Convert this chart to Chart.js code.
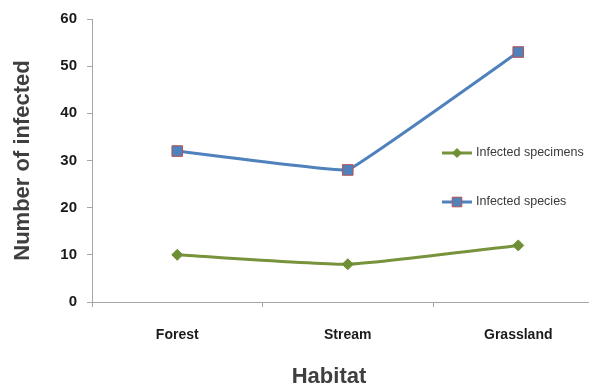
<!DOCTYPE html>
<html>
<head>
<meta charset="utf-8">
<script src="https://cdn.jsdelivr.net/npm/chart.js@4"></script>
<style>
  html, body { margin: 0; padding: 0; background: #fff; overflow: hidden; width: 589px; height: 389px; }
  #wrap { width: 589px; height: 389px; overflow: hidden; position: relative; }
  #c { position: absolute; left: 0; top: 0; }
</style>
</head>
<body>
<div id="wrap"><canvas id="c" width="612" height="389"></canvas></div>
<script>
const habitats = ['Forest', 'Stream', 'Grassland'];
const infectedSpecimens = [10, 8, 12];
const infectedSpecies = [32, 28, 53];
const yTicks = [0, 10, 20, 30, 40, 50, 60];
const xTitle = 'Habitat';

const FONT = '"Liberation Sans", Arial, sans-serif';

// Legend drawn inside the plot area, right of the Grassland point,
// plus the x-axis title centred under the whole figure
const overlay = {
  id: 'overlay',
  afterDraw(chart) {
    const ctx = chart.ctx;
    const rows = [153, 202];
    const markerRadius = [4.5, 6.8];
    ctx.save();
    chart.data.datasets.forEach((ds, i) => {
      const y = rows[i];
      ctx.strokeStyle = ds.borderColor;
      ctx.lineWidth = 3;
      ctx.beginPath();
      ctx.moveTo(442, y);
      ctx.lineTo(472, y);
      ctx.stroke();
      ctx.fillStyle = ds.pointBackgroundColor;
      ctx.strokeStyle = ds.pointBorderColor;
      ctx.lineWidth = ds.pointBorderWidth;
      Chart.helpers.drawPoint(ctx, {
        pointStyle: ds.pointStyle,
        radius: markerRadius[i],
        borderWidth: ds.pointBorderWidth
      }, 457, y);
      ctx.fillStyle = '#3a3a3a';
      ctx.font = '12.5px ' + FONT;
      ctx.textBaseline = 'middle';
      ctx.textAlign = 'left';
      ctx.fillText(ds.label, 476, y);
    });
    ctx.fillStyle = '#3f3f3f';
    ctx.font = 'bold 22px ' + FONT;
    ctx.textAlign = 'center';
    ctx.textBaseline = 'middle';
    ctx.fillText(xTitle, 329, 377);
    ctx.restore();
  }
};

new Chart(document.getElementById('c'), {
  type: 'line',
  data: {
    labels: habitats,
    datasets: [
      {
        label: 'Infected specimens',
        data: infectedSpecimens,
        borderColor: '#77933C',
        backgroundColor: '#77933C',
        borderWidth: 3,
        pointStyle: 'rectRot',
        pointRadius: 5.5,
        pointBackgroundColor: '#6f8f35',
        pointBorderColor: '#6f8f35',
        pointBorderWidth: 1,
        tension: 0.15
      },
      {
        label: 'Infected species',
        data: infectedSpecies,
        borderColor: '#4F81BD',
        backgroundColor: '#4F81BD',
        borderWidth: 3,
        pointStyle: 'rect',
        pointRadius: 7.5,
        pointBackgroundColor: '#4F81BD',
        pointBorderColor: '#b9504f',
        pointBorderWidth: 1,
        tension: 0.05
      }
    ]
  },
  options: {
    responsive: false,
    animation: false,
    layout: { padding: { top: 18, right: 0, left: 0, bottom: 0 } },
    plugins: {
      legend: { display: false },
      tooltip: { enabled: false }
    },
    scales: {
      x: {
        offset: true,
        grid: {
          offset: true,
          drawOnChartArea: false,
          drawTicks: true,
          tickLength: 5,
          color: '#a6a6a6'
        },
        border: { color: '#a6a6a6', width: 1 },
        ticks: {
          color: '#1a1a1a',
          padding: 20,
          font: { family: FONT, size: 14, weight: 'bold' }
        },
        title: { display: false },
        afterFit(scale) { scale.height = 87; }
      },
      y: {
        min: 0,
        max: 60,
        afterBuildTicks(scale) { scale.ticks = yTicks.map(v => ({ value: v })); },
        grid: {
          drawOnChartArea: false,
          drawTicks: true,
          tickLength: 5,
          color: '#a6a6a6'
        },
        border: { color: '#a6a6a6', width: 1 },
        ticks: {
          color: '#1a1a1a',
          padding: 10,
          font: { family: FONT, size: 15, weight: 'bold' }
        },
        title: {
          display: true,
          text: 'Number of infected',
          color: '#3f3f3f',
          padding: { top: 10, bottom: 8 },
          font: { family: FONT, size: 22, weight: 'bold' }
        },
        afterFit(scale) { scale.width = 92; }
      }
    }
  },
  plugins: [overlay]
});
</script>
</body>
</html>
